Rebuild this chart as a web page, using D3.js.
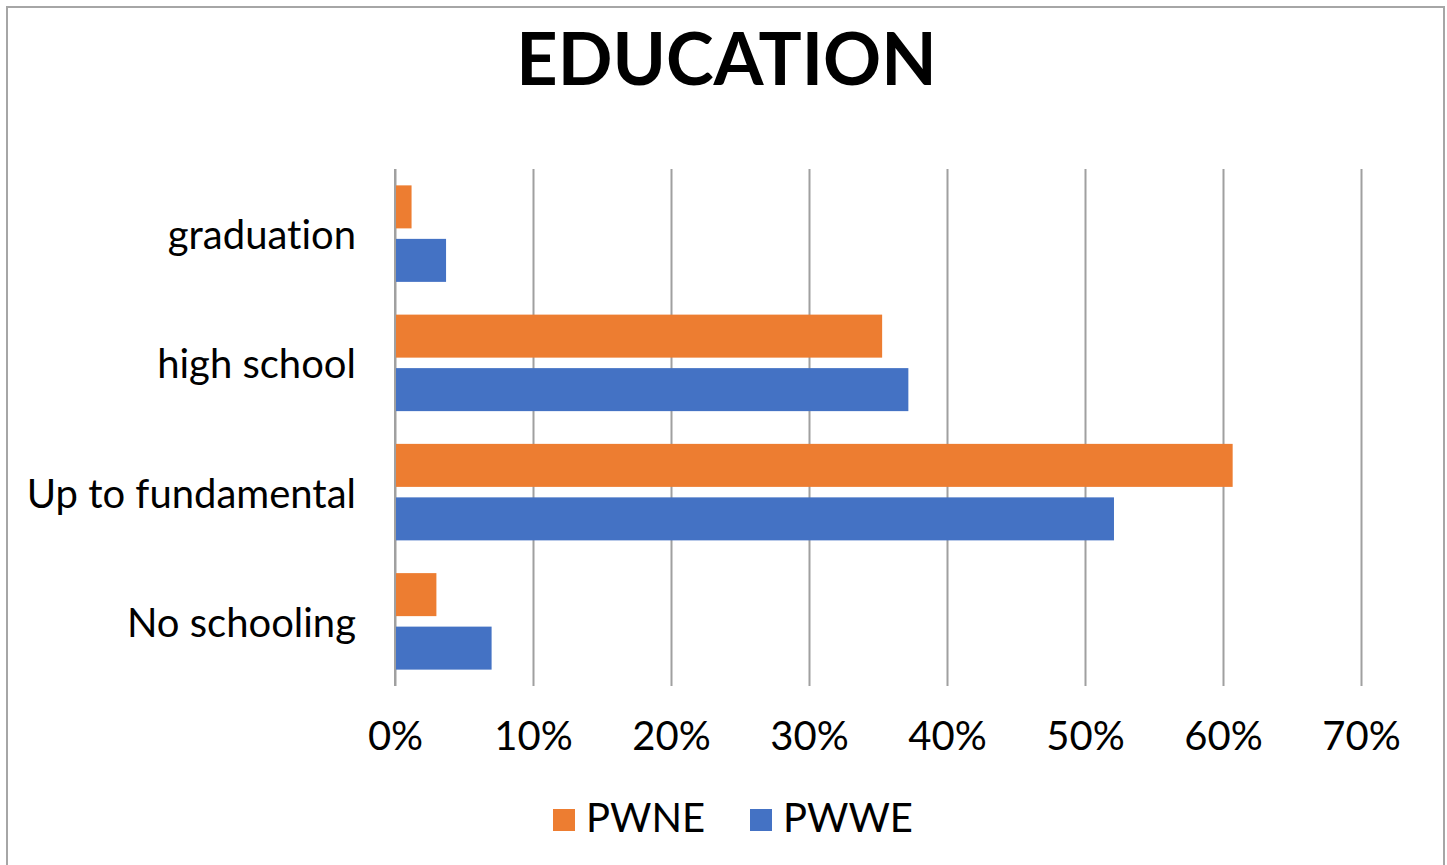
<!DOCTYPE html>
<html lang="en">
<head>
    <meta charset="UTF-8">
    <title>EDUCATION</title>
    <script src="https://d3js.org/d3.v7.min.js"></script>
    <style>
        body { margin: 0; background: #fff; }
        svg { display: block; font-family: Lato, "Open Sans", sans-serif; font-variant-ligatures: none; }
    </style>
</head>
<body>
<script>
// data (share of respondents)
const categories = ["graduation", "high school", "Up to fundamental", "No schooling"];
const seriesNames = ["PWNE", "PWWE"];
const pwne = [0.012, 0.353, 0.607, 0.030];
const pwwe = [0.037, 0.372, 0.521, 0.070];
const xTicks = [0, 0.1, 0.2, 0.3, 0.4, 0.5, 0.6, 0.7];
const colors = ["#ED7D31", "#4472C4"];

const width = 1447, height = 865;
const plot = {left: 395, right: 1361, top: 169, bottom: 686};

const svg = d3.select("body").append("svg")
    .attr("width", width)
    .attr("height", height);

// chart border
svg.append("rect")
    .attr("x", 7).attr("y", 7)
    .attr("width", 1437).attr("height", 880)
    .attr("fill", "#fff")
    .attr("stroke", "#a6a6a6")
    .attr("stroke-width", 2);

// title
svg.append("text")
    .attr("x", 726.5).attr("y", 85)
    .attr("text-anchor", "middle")
    .attr("font-size", 72)
    .attr("font-weight", "bold")
    .attr("fill", "#000")
    .text("EDUCATION");

const x = d3.scaleLinear()
    .domain([0, 0.7])
    .range([plot.left, plot.right]);

const y0 = d3.scaleBand()
    .domain(categories)
    .range([plot.top, plot.bottom])
    .padding(0);

const y1 = d3.scaleBand()
    .domain(seriesNames)
    .range([0, y0.bandwidth()])
    .paddingInner(0.196)
    .paddingOuter(0.306);

// gridlines + tick labels
const xAxis = svg.append("g")
    .attr("transform", `translate(0,${plot.bottom})`)
    .call(d3.axisBottom(x)
        .tickValues(xTicks)
        .tickFormat(d3.format(".0%"))
        .tickSize(-(plot.bottom - plot.top))
        .tickPadding(36));
xAxis.select(".domain").remove();
xAxis.selectAll(".tick line")
    .attr("stroke", "#a0a0a0")
    .attr("stroke-width", 2);
xAxis.selectAll(".tick text")
    .attr("font-size", 40)
    .attr("font-family", "Lato, sans-serif")
    .attr("fill", "#000");

// category labels
svg.append("g")
    .selectAll("text")
    .data(categories)
    .enter().append("text")
    .attr("x", 356)
    .attr("y", d => y0(d) + y0.bandwidth() / 2)
    .attr("dy", "0.39em")
    .attr("text-anchor", "end")
    .attr("font-size", 40)
    .attr("fill", "#000")
    .text(d => d);

// bars
const rows = categories.map((c, i) => ({
    name: c,
    values: [{s: "PWNE", v: pwne[i]}, {s: "PWWE", v: pwwe[i]}]
}));

const groups = svg.append("g")
    .selectAll("g")
    .data(rows)
    .enter().append("g")
    .attr("transform", d => `translate(0,${y0(d.name)})`);

groups.selectAll("rect")
    .data(d => d.values)
    .enter().append("rect")
    .attr("x", x(0))
    .attr("y", d => y1(d.s))
    .attr("width", d => x(d.v) - x(0))
    .attr("height", y1.bandwidth())
    .attr("fill", (d, i) => colors[i]);

// redraw the zero line on top of bars
svg.append("line")
    .attr("x1", x(0)).attr("x2", x(0))
    .attr("y1", plot.top).attr("y2", plot.bottom)
    .attr("stroke", "#a0a0a0")
    .attr("stroke-width", 2);

// legend
const legendX = [553, 750];
const legend = svg.append("g")
    .selectAll("g")
    .data(seriesNames)
    .enter().append("g")
    .attr("transform", (d, i) => `translate(${legendX[i]},809)`);
legend.append("rect")
    .attr("width", 22).attr("height", 22)
    .attr("fill", (d, i) => colors[i]);
legend.append("text")
    .attr("x", 33).attr("y", 22.5)
    .attr("font-size", 40)
    .attr("fill", "#000")
    .text(d => d);
</script>
</body>
</html>
